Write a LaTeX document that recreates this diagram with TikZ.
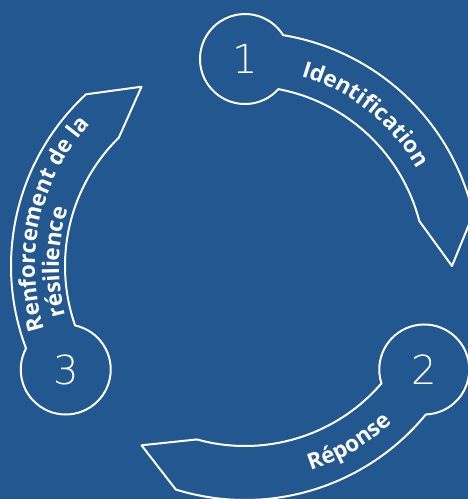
\documentclass[tikz,border=0pt]{standalone}
\usepackage{fontspec}
\setmainfont{Open Sans}
\IfFontExistsTF{DejaVu Sans ExtraLight}
  {\newfontfamily\stepnum{DejaVu Sans ExtraLight}}
  {\newfontfamily\stepnum{DejaVu Sans}}
\usetikzlibrary{decorations.text}
\definecolor{cyclebg}{HTML}{22578F}
\newcommand\bandfont{\color{white}\bfseries\fontsize{22.5}{26}\selectfont}

\begin{document}
\begin{tikzpicture}[line cap=round, line join=round, x=1pt, y=1pt,
  band/.style={draw=white, line width=2pt},
  num/.style={text=white, font=\stepnum\fontsize{40}{40}\selectfont}]
  \clip (-245,-233) rectangle (223,266);
  \fill[cyclebg] (-245,-233) rectangle (223,266);
  % three curved arrows, each growing out of a numbered disc
  \foreach \t in {90,-30,210}{
    \draw[band] ({\t-9.4}:234) arc[start angle=\t-9.4, end angle=\t-77.2, radius=234]
      -- ({\t-90}:207) -- ({\t-75.5}:180)
      arc[start angle=\t-75.5, end angle=\t-10.7, radius=180]
      arc[start angle=\t-132.03, end angle=\t-418.03, radius=45] -- cycle;
  }
  % step numbers
  \node[num] (n1) at (90:207) {1};
  \node[num] (n2) at (-30:207) {2};
  \node[num] (n3) at (210:207) {3};
  % labels along the arrows
  \path[decorate, decoration={text along path, text align=center,
      text={|\bandfont|Identification}}]
    (81.5:198) arc[start angle=81.5, end angle=21.5, radius=198];
  \path[decorate, decoration={text along path, text align=center,
      text={|\bandfont|Réponse}}]
    (-89.5:215) arc[start angle=-89.5, end angle=-29.5, radius=215];
  \path[decorate, decoration={text along path, text align=left,
      text={|\bandfont|Renforcement de la}}]
    (197.5:210) arc[start angle=197.5, end angle=120, radius=210];
  \path[decorate, decoration={text along path, text align=left,
      text={|\bandfont|résilience}}]
    (195.5:186) arc[start angle=195.5, end angle=140, radius=186];
\end{tikzpicture}
\end{document}
